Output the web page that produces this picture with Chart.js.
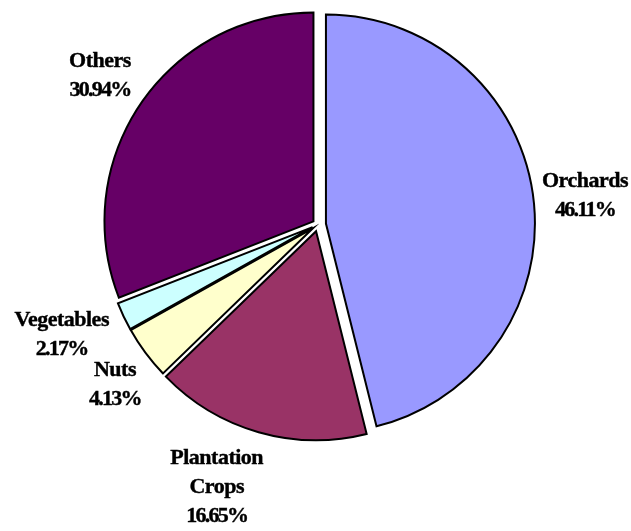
<!DOCTYPE html>
<html>
<head>
<meta charset="utf-8">
<script src="https://cdn.jsdelivr.net/npm/chart.js@4.4.0/dist/chart.umd.min.js"></script>
<style>
    html, body { margin: 0; padding: 0; background: #fff; }
    #chart { width: 631px; height: 531px; }
</style>
</head>
<body>
<div id="chart"><canvas id="myChart" width="631" height="531"></canvas></div>
<script>
const categories = ['Orchards', 'Plantation Crops', 'Nuts', 'Vegetables', 'Others'];
const shares = [46.11, 16.65, 4.13, 2.17, 30.94];
const labelLines = [['Orchards'], ['Plantation', 'Crops'], ['Nuts'], ['Vegetables'], ['Others']];

const colors = ['#9999FF', '#993366', '#FFFFCC', '#CCFFFF', '#660066'];
// how far each slice is pulled out from the centre (px)
const explode = [8, 7, 6, 6, 5.5];
// label block distance from centre along the slice bisector, plus a small shift
const labelRadius = [269, 281, 258, 279, 264];
const labelShift = [[0, 4], [-24, -7], [4, 6], [-4, -9], [0, 0]];

const FONT = 'bold 22px "Liberation Serif", "Times New Roman", serif';
const LINE_H = 29;

// draws the slices pulled out along their bisectors, without the
// radius growth chart.js adds to offset arcs
const explodedPie = {
    id: 'explodedPie',
    beforeDatasetDraw(chart, args) {
        const ctx = chart.ctx;
        const meta = args.meta;
        meta.data.forEach((arc, i) => {
            const p = arc.getProps(['x', 'y', 'startAngle', 'endAngle', 'outerRadius']);
            const mid = (p.startAngle + p.endAngle) / 2;
            const cx = p.x + Math.cos(mid) * explode[i];
            const cy = p.y + Math.sin(mid) * explode[i];
            ctx.save();
            ctx.beginPath();
            ctx.moveTo(cx, cy);
            ctx.arc(cx, cy, p.outerRadius, p.startAngle, p.endAngle);
            ctx.closePath();
            ctx.fillStyle = arc.options.backgroundColor;
            ctx.fill();
            ctx.lineWidth = arc.options.borderWidth;
            ctx.lineJoin = 'miter';
            ctx.strokeStyle = arc.options.borderColor;
            ctx.stroke();
            ctx.restore();
        });
        return false;
    },
    afterDatasetsDraw(chart) {
        const ctx = chart.ctx;
        const meta = chart.getDatasetMeta(0);
        ctx.save();
        ctx.font = FONT;
        ctx.fillStyle = '#000';
        ctx.strokeStyle = '#000';
        ctx.lineWidth = 0.4;
        ctx.textAlign = 'center';
        ctx.textBaseline = 'middle';
        meta.data.forEach((arc, i) => {
            const p = arc.getProps(['x', 'y', 'startAngle', 'endAngle']);
            const mid = (p.startAngle + p.endAngle) / 2;
            const lx = p.x + Math.cos(mid) * labelRadius[i] + labelShift[i][0];
            const ly = p.y + Math.sin(mid) * labelRadius[i] + labelShift[i][1];
            const lines = labelLines[i].concat([shares[i].toFixed(2) + '%']);
            const top = ly - (lines.length - 1) * LINE_H / 2;
            lines.forEach((t, k) => {
                ctx.letterSpacing = k === lines.length - 1 ? '-1.75px' : '-0.5px';
                ctx.fillText(t, lx, top + k * LINE_H);
                ctx.strokeText(t, lx, top + k * LINE_H);
            });
        });
        ctx.restore();
    }
};

const config = {
    type: 'pie',
    data: {
        labels: categories,
        datasets: [{
            data: shares,
            backgroundColor: colors,
            borderColor: '#000',
            borderWidth: 2
        }]
    },
    options: {
        responsive: false,
        animation: false,
        events: [],
        radius: 209,
        layout: {
            padding: { left: 5, right: 0, top: 0, bottom: 82 }
        },
        plugins: {
            legend: { display: false },
            tooltip: { enabled: false }
        }
    },
    plugins: [explodedPie]
};

new Chart(document.getElementById('myChart'), config);
</script>
</body>
</html>
